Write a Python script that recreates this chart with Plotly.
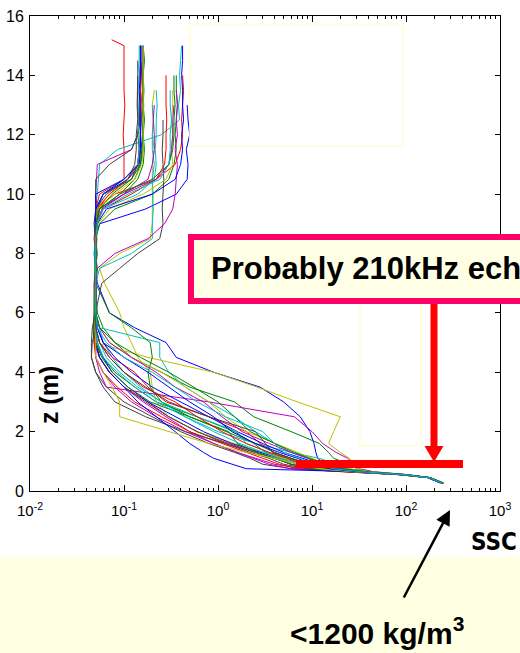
import plotly.graph_objects as go

W, H = 520, 653


def px(x):
    return x / W


def py(y):
    return 1 - y / H


N = None

# depth levels (m) shared by all profiles
Z_LEVELS = [0.27, 0.45, 0.55, 0.65, 0.75, 0.9, 1.1, 1.3, 1.6, 2.0, 2.5, 3.0, 3.5, 4.0, 4.5, 5.0, 5.5, 6.0,
            7.0, 7.5, 8.0, 8.5, 9.0, 9.5, 10.0, 10.5, 11.0, 11.5, 12.0, 12.5, 13.0, 13.5, 14.0, 14.5, 15.0, 15.2]

# SSC profiles (kg/m3), one value per depth level, None above the top of the profile
ssc_01 = [240, 180, 100, 35, 20, 14, 11.5, 11, 10.5, 9.5, 7.5, 5.0, 2.8, 0.9, 0.36, 0.28, 0.13, 0.07,
          0.052, 0.05, 0.051, 0.049, 0.05, 0.052, 0.06, 0.11, 0.15, 0.155, 0.15, 0.152, 0.155, 0.15, 0.153, 0.155, 0.155, N]
ssc_02 = [250, 178, 90, 28, 14, 8, 5, 3.2, 2.4, 1.5, 0.6, 0.22, 0.13, 0.08, 0.06, 0.05, 0.048, 0.05,
          0.049, 0.05, 0.048, 0.05, 0.052, 0.055, 0.09, 0.13, 0.15, 0.16, 0.158, 0.16, 0.162, 0.16, 0.158, 0.16, 0.16, N]
ssc_03 = [245, 176, 95, 30, 12, 6, 4, 2.5, 1.3, 0.6, 0.3, 0.18, 0.1, 0.07, 0.055, 0.05, 0.048, 0.05,
          0.05, 0.049, 0.05, 0.048, 0.05, 0.05, 0.055, 0.1, 0.1, 0.1, 0.098, 0.1, 0.102, 0.1, 0.1, 0.1, 0.1, 0.074]
ssc_04 = [240, 175, 100, 40, 25, 18, 12, 6, 2.5, 1.0, 0.45, 0.25, 0.15, 0.1, 0.075, 0.06, 0.055, 0.05,
          0.05, 0.049, 0.05, 0.051, 0.05, 0.05, 0.052, 0.053, 0.055, 0.085, 0.25, 0.39, 0.38, 0.4, 0.39, 0.4, 0.41, N]
ssc_05 = [235, 170, 85, 22, 8, 4, 2.5, 1.6, 0.9, 0.5, 0.28, 0.16, 0.1, 0.07, 0.055, 0.05, 0.049, 0.05,
          0.05, 0.05, 0.049, 0.05, 0.05, 0.051, 0.05, 0.051, 0.052, 0.12, 0.14, 0.15, 0.155, 0.16, 0.16, 0.162, 0.16, N]
ssc_06 = [245, 180, 95, 30, 16, 9, 5, 3, 1.5, 0.6, 0.3, 0.22, 0.2, 0.19, 0.14, 0.12, 0.1, 0.09,
          0.062, 0.055, 0.09, 0.19, 0.2, 0.2, 0.205, 0.2, 0.2, 0.21, 0.2, 0.205, 0.2, 0.21, N, N, N, N]
ssc_07 = [250, 182, 90, 25, 6, 3, 2.2, 1.5, 0.8, 0.4, 0.2, 0.1, 0.065, 0.05, 0.045, 0.045, 0.046, 0.05,
          0.058, 0.09, 0.14, 0.24, 0.26, 0.255, 0.26, 0.265, 0.26, 0.255, 0.26, 0.26, N, N, N, N, N, N]
ssc_08 = [240, 172, 88, 26, 12, 7, 4.5, 2.8, 1.4, 0.7, 0.35, 0.18, 0.11, 0.075, 0.06, 0.052, 0.05, 0.05,
          0.05, 0.051, 0.05, 0.05, 0.055, 0.17, 0.36, 0.47, 0.48, 0.46, 0.5, 0.48, 0.47, N, N, N, N, N]
ssc_09 = [245, 178, 105, 42, 30, 25, 17, 15, 12, 6, 2.4, 1.5, 0.5, 0.25, 0.12, 0.08, 0.06, 0.052,
          0.05, 0.049, 0.05, 0.05, 0.055, 0.08, 0.2, 0.3, 0.34, 0.36, 0.35, 0.36, 0.37, 0.36, 0.36, N, N, N]
ssc_10 = [250, 180, 92, 30, 15, 9, 6, 4, 2.8, 2.0, 0.8, 0.28, 0.18, 0.13, 0.075, 0.055, 0.05, 0.05,
          0.05, 0.05, 0.051, 0.05, 0.052, 0.05, 0.08, 0.22, 0.35, 0.4, 0.42, 0.41, 0.42, 0.43, 0.42, N, N, N]
ssc_11 = [240, 176, 98, 35, 22, 14, 9, 6, 4, 2.5, 1.5, 0.8, 0.45, 0.3, 0.24, 0.24, 0.055, 0.05,
          0.05, 0.055, 0.12, 0.2, 0.2, 0.205, 0.2, 0.2, 0.21, 0.2, 0.2, 0.205, 0.2, N, N, N, N, N]
ssc_12 = [240, 175, 105, 45, 32, 28, 24, 18, 13, 10, 6.5, 0.8, 0.065, 0.055, 0.05, 0.05, 0.049, 0.05,
          0.05, 0.052, 0.08, 0.18, 0.27, 0.33, 0.35, 0.36, 0.37, 0.35, 0.37, 0.36, 0.37, 0.36, N, N, N, N]
ssc_13 = [245, 180, 100, 40, 30, 28, 25, 20, 15, 17, 20, 7, 2.6, 0.9, 0.18, 0.05, 0.05, 0.048,
          0.049, 0.05, 0.05, 0.052, 0.05, 0.05, 0.07, 0.12, 0.145, 0.15, 0.148, 0.15, 0.152, 0.15, 0.15, 0.148, 0.15, N]
ssc_14 = [248, 182, 90, 24, 9, 5, 3.5, 2.2, 1.2, 0.6, 0.3, 0.17, 0.1, 0.07, 0.055, 0.048, 0.047, 0.048,
          0.048, 0.05, 0.049, 0.05, 0.048, 0.05, 0.05, 0.05, 0.07, 0.12, 0.14, 0.145, 0.145, 0.15, 0.148, 0.15, 0.148, N]
ssc_15 = [235, 170, 92, 32, 18, 12, 8, 5, 3, 1.6, 0.8, 0.4, 0.2, 0.12, 0.08, 0.06, 0.052, 0.05,
          0.05, 0.05, 0.051, 0.05, 0.049, 0.05, 0.05, 0.1, 0.14, 0.145, 0.15, 0.148, 0.15, 0.15, 0.148, 0.15, 0.15, N]
ssc_16 = [250, 178, 96, 34, 18, 10, 6, 4, 2.5, 1.2, 0.5, 0.25, 0.19, 0.18, 0.2, 0.19, 0.12, 0.07,
          0.05, 0.052, 0.05, 0.05, 0.051, 0.053, 0.1, 0.14, 0.16, 0.165, 0.16, 0.165, 0.16, 0.163, 0.16, 0.165, 0.16, N]
ssc_17 = [240, 174, 85, 20, 7, 4.5, 3, 2, 1.1, 0.5, 0.25, 0.13, 0.085, 0.06, 0.05, 0.048, 0.05, 0.05,
          0.049, 0.05, 0.05, 0.05, 0.052, 0.06, 0.12, 0.22, 0.27, 0.28, 0.28, 0.285, 0.28, 0.28, 0.28, N, N, N]
ssc_18 = [245, 178, 92, 28, 13, 8, 5.5, 3.5, 2, 1.6, 0.6, 0.25, 0.14, 0.09, 0.065, 0.055, 0.05, 0.05,
          0.05, 0.05, 0.049, 0.05, 0.05, 0.06, 0.14, 0.21, 0.22, 0.215, 0.22, 0.22, 0.225, 0.22, N, N, N, N]
ssc_19 = [235, 168, 82, 20, 6, 3.5, 2.4, 1.6, 0.9, 0.45, 0.22, 0.12, 0.08, 0.06, 0.05, 0.05, 0.049, 0.05,
          0.05, 0.05, 0.05, 0.051, 0.05, 0.055, 0.1, 0.18, 0.2, 0.21, 0.21, 0.205, 0.21, N, N, N, N, N]
ssc_20 = [250, 182, 100, 38, 24, 15, 10, 7, 4, 2, 1.2, 0.8, 0.45, 0.25, 0.12, 0.07, 0.055, 0.05,
          0.05, 0.05, 0.05, 0.05, 0.053, 0.07, 0.16, 0.28, 0.33, 0.32, 0.33, 0.32, 0.33, 0.33, N, N, N, N]
ssc_21 = [245, 176, 90, 26, 9, 6, 4, 2.5, 1.2, 0.45, 0.17, 0.08, 0.06, 0.05, 0.045, 0.046, 0.05, 0.05,
          0.05, 0.05, 0.05, 0.05, 0.051, 0.05, 0.06, 0.12, 0.14, 0.145, 0.14, 0.145, 0.14, 0.14, 0.142, 0.14, N, N]
ssc_22 = [230, 170, 85, 30, 2.0, 1.4, 0.9, 0.7, 0.5, 0.35, 0.22, 0.14, 0.1, 0.07, 0.055, 0.05, 0.05, 0.05,
          0.05, 0.05, 0.05, 0.05, 0.052, 0.065, 0.2, 0.35, 0.4, 0.42, 0.41, 0.43, 0.42, 0.42, 0.41, 0.42, 0.42, N]
ssc_23 = [242, 175, 88, 25, 10, 6, 4, 2.6, 1.6, 1.3, 0.5, 0.19, 0.11, 0.075, 0.058, 0.05, 0.048, 0.049,
          0.05, 0.05, 0.052, 0.05, 0.05, 0.055, 0.075, 0.12, 0.15, 0.155, 0.16, 0.155, 0.16, 0.158, 0.16, 0.16, 0.16, N]
ssc_24 = [248, 180, 94, 30, 14, 8, 5.5, 3.5, 2, 1.1, 0.6, 0.35, 0.16, 0.1, 0.07, 0.055, 0.05, 0.05,
          0.05, 0.051, 0.05, 0.05, 0.05, 0.052, 0.07, 0.11, 0.14, 0.15, 0.15, 0.148, 0.15, 0.15, 0.152, 0.15, 0.15, N]
ssc_25 = [238, 172, 90, 28, 12, 7, 4.5, 3, 1.7, 0.9, 0.45, 0.22, 0.13, 0.085, 0.06, 0.052, 0.05, 0.05,
          0.05, 0.05, 0.05, 0.05, 0.05, 0.05, 0.06, 0.1, 0.14, 0.145, 0.145, 0.14, 0.145, 0.145, 0.14, 0.145, 0.145, N]
ssc_26 = [245, 178, 98, 36, 20, 13, 9, 6, 3.5, 1.8, 1.1, 0.7, 0.35, 0.22, 0.12, 0.07, 0.055, 0.05,
          0.05, 0.05, 0.05, 0.05, 0.052, 0.058, 0.1, 0.22, 0.3, 0.32, 0.33, 0.33, 0.34, N, N, N, N, N]
ssc_27 = [250, 180, 90, 28, 12, 7, 4, 2, 0.8, 0.3, 0.09, 0.09, 0.075, 0.06, 0.05, 0.05, 0.049, 0.05,
          0.05, 0.05, 0.05, 0.05, 0.05, 0.052, 0.08, 0.13, 0.155, 0.16, 0.16, 0.16, 0.162, 0.16, 0.16, 0.162, 0.16, N]
ssc_28 = [240, 176, 92, 30, 15, 9, 6, 3.8, 3.2, 2.5, 0.8, 0.3, 0.17, 0.1, 0.07, 0.055, 0.05, 0.05,
          0.05, 0.05, 0.05, 0.05, 0.05, 0.05, 0.065, 0.11, 0.13, 0.135, 0.135, 0.14, 0.138, 0.14, 0.14, N, N, N]
ssc_29 = [245, 180, 95, 32, 16, 10, 7, 4.5, 2.5, 1.4, 0.9, 0.5, 0.3, 0.18, 0.1, 0.06, 0.052, 0.05,
          0.05, 0.05, 0.05, 0.05, 0.05, 0.05, 0.06, 0.1, 0.145, 0.15, 0.15, 0.15, 0.148, 0.145, 0.15, 0.15, 0.15, N]
ssc_30 = [250, 180, 100, 38, 22, 14, 9.5, 6.5, 4, 2.2, 1.5, 1.0, 0.55, 0.3, 0.15, 0.08, 0.055, 0.05,
          0.05, 0.05, 0.05, 0.05, 0.05, 0.055, 0.09, 0.2, 0.3, 0.33, 0.34, 0.34, 0.35, 0.34, 0.34, N, N, N]
ssc_31 = [242, 176, 95, 33, 17, 11, 7.5, 5, 4, 3, 1.2, 0.6, 0.35, 0.2, 0.1, 0.065, 0.052, 0.05,
          0.05, 0.05, 0.05, 0.05, 0.052, 0.06, 0.11, 0.24, 0.3, 0.31, 0.31, 0.32, 0.31, 0.31, N, N, N, N]

PROFILES = [ssc_01, ssc_02, ssc_03, ssc_04, ssc_05, ssc_06, ssc_07, ssc_08, ssc_09, ssc_10,
            ssc_11, ssc_12, ssc_13, ssc_14, ssc_15, ssc_16, ssc_17, ssc_18, ssc_19, ssc_20,
            ssc_21, ssc_22, ssc_23, ssc_24, ssc_25, ssc_26, ssc_27, ssc_28, ssc_29, ssc_30, ssc_31]

# MATLAB default colour order b g r c m y k
COLOR_ORDER = ["#0000FF", "#008000", "#FF0000", "#00BFBF", "#BF00BF", "#BFBF00", "#404040"]
PROFILE_COLORS = [COLOR_ORDER[i % 7] for i in range(len(PROFILES))]
PROFILE_COLORS[30] = "#00BFBF"

X_TICKS = [0.01, 0.1, 1, 10, 100, 1000]
X_TICK_TEXT = ["10<sup>-2</sup>", "10<sup>-1</sup>", "10<sup>0</sup>",
               "10<sup>1</sup>", "10<sup>2</sup>", "10<sup>3</sup>"]
X_MINOR = [k * 10.0 ** e for e in range(-2, 3) for k in range(2, 10)]
Y_TICKS = [0, 2, 4, 6, 8, 10, 12, 14, 16]

FONT = "Arial, Liberation Sans, sans-serif"

fig = go.Figure()
for prof, col in zip(PROFILES, PROFILE_COLORS):
    xs = [x for x, z in zip(prof, Z_LEVELS) if x is not None]
    zs = [z for x, z in zip(prof, Z_LEVELS) if x is not None]
    fig.add_trace(go.Scatter(x=xs, y=zs, mode="lines", line=dict(color=col, width=1),
                             showlegend=False, hoverinfo="skip"))

shapes = [
    # pale yellow band at the bottom
    dict(type="rect", xref="paper", yref="paper", x0=0, x1=1, y0=0, y1=py(557),
         fillcolor="#FFFFE1", line=dict(width=0), layer="below"),
    # faint pale rectangles
    dict(type="rect", xref="paper", yref="paper", x0=px(190), x1=px(403), y0=py(146), y1=py(25),
         line=dict(color="#FFFFD6", width=1.5), layer="above"),
    dict(type="rect", xref="paper", yref="paper", x0=px(360), x1=px(421), y0=py(446), y1=py(300),
         line=dict(color="#FFFFD6", width=1.5), layer="above"),
    # call-out box
    dict(type="rect", xref="paper", yref="paper", x0=px(191), x1=px(580), y0=py(301), y1=py(237),
         fillcolor="#FFFFE6", line=dict(color="#FF0066", width=6), layer="above"),
    # red arrow shaft + head
    dict(type="line", xref="paper", yref="paper", x0=px(434), x1=px(434), y0=py(304), y1=py(449),
         line=dict(color="#FF0000", width=7), layer="above"),
    dict(type="path", xref="paper", yref="paper",
         path=f"M {px(424.5)},{py(446)} L {px(443.5)},{py(446)} L {px(434)},{py(462)} Z",
         fillcolor="#FF0000", line=dict(color="#FF0000", width=0), layer="above"),
    # red bar
    dict(type="rect", xref="paper", yref="paper", x0=px(296), x1=px(463), y0=py(468), y1=py(460),
         fillcolor="#FF0000", line=dict(width=0), layer="above"),
]

annotations = [
    dict(xref="paper", yref="paper", x=px(209), y=py(268), xanchor="left", yanchor="middle",
         text="<b>Probably 210kHz echosounder</b>", showarrow=False,
         font=dict(family=FONT, size=31, color="black")),
    dict(xref="paper", yref="paper", x=px(49), y=py(395), xanchor="center", yanchor="middle",
         text="<b>z (m)</b>", textangle=-90, showarrow=False,
         font=dict(family=FONT, size=25, color="black")),
    dict(xref="paper", yref="paper", x=px(519), y=py(542), xanchor="right", yanchor="middle",
         text="<b>SSC</b>", showarrow=False,
         font=dict(family="Liberation Sans Narrow, Arial Narrow, DejaVu Sans Condensed, Arial, sans-serif",
                   size=24, color="black")),
    dict(xref="paper", yref="paper", x=px(288), y=py(631), xanchor="left", yanchor="middle",
         text="<b>&lt;1200 kg/m<sup>3</sup></b>", showarrow=False,
         font=dict(family=FONT, size=30, color="black")),
    dict(xref="paper", yref="paper", x=px(450), y=py(510), text="", showarrow=True,
         axref="pixel", ayref="pixel", ax=-47, ay=89, arrowhead=2, arrowsize=1.2,
         arrowwidth=2.5, arrowcolor="black", standoff=0, startstandoff=0),
]

fig.update_layout(
    width=W, height=H, margin=dict(l=0, r=0, t=0, b=0, autoexpand=False),
    paper_bgcolor="white", plot_bgcolor="white", showlegend=False,
    shapes=shapes, annotations=annotations,
    xaxis=dict(type="log", range=[-2, 3], domain=[px(30), px(500)], automargin=False,
               tickmode="array", tickvals=X_TICKS, ticktext=X_TICK_TEXT,
               ticks="inside", ticklen=6, tickcolor="black", tickwidth=1,
               showline=True, linecolor="black", linewidth=1, mirror="ticks",
               showgrid=False, zeroline=False, ticklabelstandoff=6,
               tickfont=dict(family=FONT, size=15, color="black"),
               minor=dict(tickmode="array", tickvals=X_MINOR, ticks="inside", ticklen=3,
                          tickcolor="black", tickwidth=1, showgrid=False)),
    yaxis=dict(range=[0, 16], domain=[py(491), py(16)], automargin=False,
               tickmode="array", tickvals=Y_TICKS,
               ticks="inside", ticklen=5, tickcolor="black", tickwidth=1,
               showline=True, linecolor="black", linewidth=1, mirror="ticks",
               showgrid=False, zeroline=False, ticklabelstandoff=2,
               tickfont=dict(family=FONT, size=16, color="black")),
)

fig.write_html("out.html", config={"displayModeBar": False},
               post_script="document.body.style.margin='0';document.body.style.overflow='hidden';")
